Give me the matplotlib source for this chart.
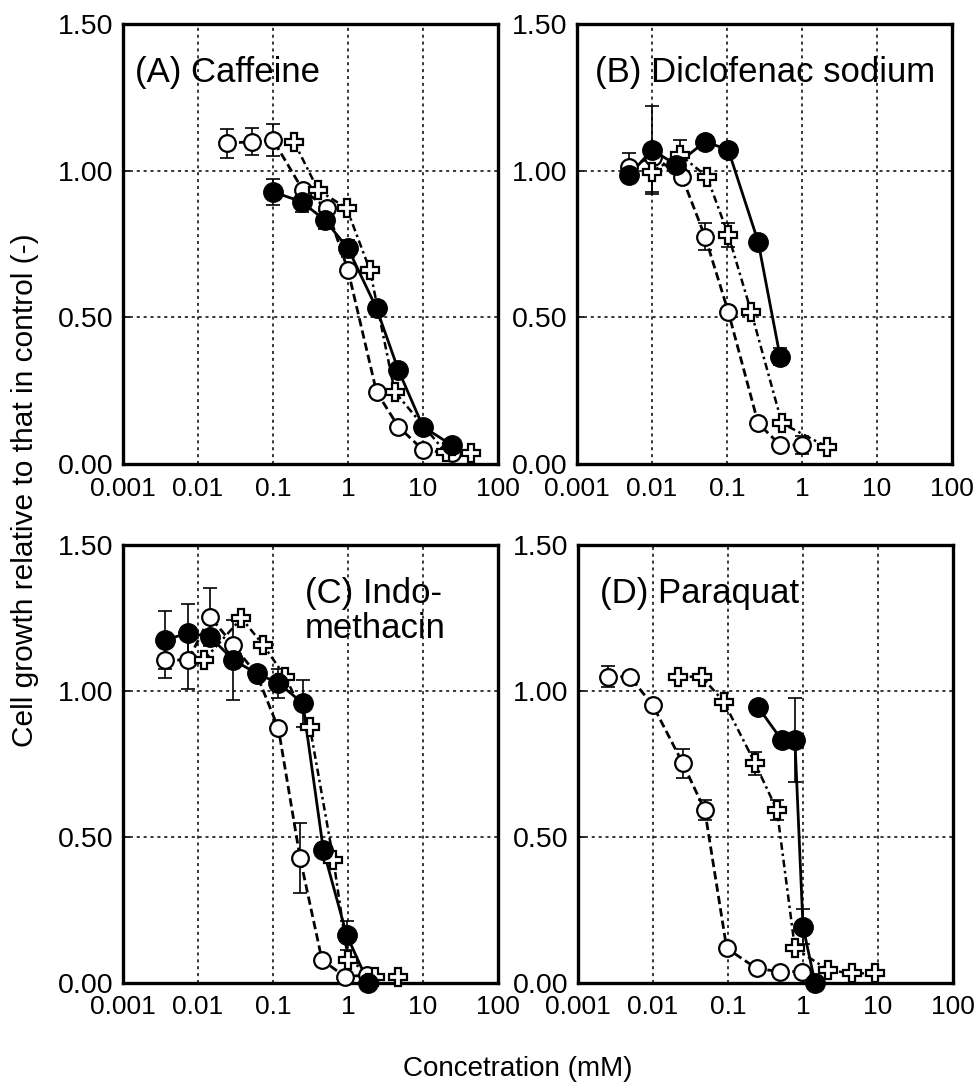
import numpy as np
import matplotlib
matplotlib.use('Agg')
import matplotlib.pyplot as plt

plt.rcParams['font.family'] = ['Liberation Sans', 'DejaVu Sans']

# x ticks / y ticks
x_ticks = [0.001, 0.01, 0.1, 1, 10, 100]
x_tick_labels = ['0.001', '0.01', '0.1', '1', '10', '100']
y_ticks = [0.0, 0.5, 1.0, 1.5]
y_tick_labels = ['0.00', '0.50', '1.00', '1.50']

# (A) Caffeine
caf_fill_x = [0.1, 0.24, 0.49, 1.0, 2.4, 4.7, 10, 24]
caf_fill_y = [0.928, 0.894, 0.832, 0.735, 0.531, 0.32, 0.127, 0.065]
caf_fill_e = [0.045, 0.035, 0.03, 0.03, 0, 0, 0, 0]
caf_open_x = [0.024, 0.052, 0.1, 0.25, 0.52, 1.0, 2.4, 4.7, 10, 24]
caf_open_y = [1.093, 1.099, 1.105, 0.934, 0.873, 0.661, 0.246, 0.127, 0.048, 0.036]
caf_open_e = [0.05, 0.045, 0.055, 0, 0, 0, 0, 0, 0, 0]
caf_cross_x = [0.19, 0.4, 0.96, 1.96, 4.2, 20, 44]
caf_cross_y = [1.099, 0.934, 0.872, 0.661, 0.246, 0.04, 0.036]
caf_cross_e = [0, 0, 0, 0, 0, 0, 0]

# (B) Diclofenac sodium
dic_fill_x = [0.005, 0.01, 0.021, 0.051, 0.104, 0.26, 0.51]
dic_fill_y = [0.985, 1.071, 1.02, 1.099, 1.071, 0.758, 0.366]
dic_fill_e = [0, 0.15, 0, 0, 0, 0, 0.03]
dic_open_x = [0.005, 0.0104, 0.025, 0.051, 0.104, 0.26, 0.51, 1.0]
dic_open_y = [1.014, 1.048, 0.98, 0.775, 0.519, 0.139, 0.065, 0.065]
dic_open_e = [0.045, 0, 0, 0.045, 0, 0, 0, 0.03]
dic_cross_x = [0.01, 0.0236, 0.054, 0.104, 0.21, 0.54, 2.13]
dic_cross_y = [0.997, 1.054, 0.98, 0.781, 0.519, 0.139, 0.059]
dic_cross_e = [0.07, 0.05, 0, 0.04, 0, 0, 0]

# (C) Indomethacin
ind_fill_x = [0.0036, 0.0074, 0.0145, 0.0296, 0.061, 0.118, 0.25, 0.47, 0.96, 1.87]
ind_fill_y = [1.175, 1.198, 1.186, 1.106, 1.06, 1.027, 0.958, 0.455, 0.164, 0.0]
ind_fill_e = [0.10, 0.10, 0, 0.137, 0, 0.05, 0.08, 0, 0.05, 0]
ind_open_x = [0.0036, 0.0074, 0.0145, 0.0296, 0.061, 0.118, 0.23, 0.45, 0.91, 1.8]
ind_open_y = [1.106, 1.106, 1.254, 1.158, 1.055, 0.872, 0.427, 0.079, 0.022, 0.027]
ind_open_e = [0.06, 0.10, 0.10, 0, 0, 0, 0.12, 0, 0, 0]
ind_cross_x = [0.012, 0.038, 0.074, 0.145, 0.31, 0.64, 1.0, 2.3, 4.7]
ind_cross_y = [1.106, 1.249, 1.158, 1.049, 0.878, 0.421, 0.079, 0.022, 0.022]
ind_cross_e = [0, 0, 0, 0, 0, 0, 0, 0, 0]

# (D) Paraquat
par_fill_x = [0.25, 0.52, 0.78, 1.0, 1.45]
par_fill_y = [0.946, 0.832, 0.832, 0.193, 0.0]
par_fill_e = [0, 0, 0.145, 0.06, 0]
par_open_x = [0.0025, 0.0049, 0.0099, 0.025, 0.049, 0.096, 0.24, 0.49, 0.96]
par_open_y = [1.049, 1.049, 0.952, 0.752, 0.592, 0.119, 0.05, 0.039, 0.039]
par_open_e = [0.035, 0, 0, 0.05, 0.035, 0, 0, 0, 0]
par_cross_x = [0.0218, 0.0446, 0.088, 0.23, 0.45, 0.78, 2.18, 4.45, 9.1]
par_cross_y = [1.049, 1.049, 0.963, 0.752, 0.592, 0.119, 0.044, 0.033, 0.033]
par_cross_e = [0, 0, 0, 0.04, 0.035, 0, 0, 0, 0]

panels = [
    ('A', [(caf_open_x, caf_open_y, caf_open_e), (caf_cross_x, caf_cross_y, caf_cross_e),
           (caf_fill_x, caf_fill_y, caf_fill_e)]),
    ('B', [(dic_open_x, dic_open_y, dic_open_e), (dic_cross_x, dic_cross_y, dic_cross_e),
           (dic_fill_x, dic_fill_y, dic_fill_e)]),
    ('C', [(ind_open_x, ind_open_y, ind_open_e), (ind_cross_x, ind_cross_y, ind_cross_e),
           (ind_fill_x, ind_fill_y, ind_fill_e)]),
    ('D', [(par_open_x, par_open_y, par_open_e), (par_cross_x, par_cross_y, par_cross_e),
           (par_fill_x, par_fill_y, par_fill_e)]),
]

# marker / line style per series: open circle, cross, filled circle
styles = [
    dict(marker='o', ms=12, mfc='white', mec='black', mew=1.6, ls=(0, (3, 1.5)), lw=2.0),
    dict(marker='P', ms=13, mfc='white', mec='black', mew=1.6, ls=(0, (3, 1.5, 1, 1.5)), lw=1.8),
    dict(marker='o', ms=14, mfc='black', mec='black', mew=1.0, ls='-', lw=2.0),
]

W, H = 979, 1084
fig = plt.figure(figsize=(W / 100, H / 100), dpi=100)

# axes boxes in pixels: left, top(1.5), right, bottom(0.0)
boxes = {
    'A': (123, 24, 498, 464),
    'B': (577, 24, 952, 464),
    'C': (123, 545, 498, 983),
    'D': (578, 545, 953, 983),
}

for key, series in panels:
    l, t, r, b = boxes[key]
    ax = fig.add_axes([l / W, 1 - b / H, (r - l) / W, (b - t) / H])
    ax.set_xscale('log')
    ax.set_xlim(1e-3, 1e2)
    ax.set_ylim(0, 1.5)
    ax.set_xticks(x_ticks)
    ax.set_xticklabels(x_tick_labels)
    ax.minorticks_off()
    ax.set_yticks(y_ticks)
    ax.set_yticklabels(y_tick_labels)
    ax.tick_params(axis='x', length=0, pad=9, labelsize=19)
    ax.tick_params(axis='y', direction='in', length=5, width=1.2, pad=7, labelsize=20.5)
    for s in ax.spines.values():
        s.set_linewidth(2.4)
    for xv in x_ticks[1:-1]:
        ax.axvline(xv, color='black', lw=1.1, ls=(0, (2, 2.5)), zorder=1)
    for yv in [0.5, 1.0]:
        ax.axhline(yv, color='black', lw=1.1, ls=(0, (2, 2.5)), zorder=1)

    for (xs, ys, es), st in zip(series, styles):
        ax.plot(xs, ys, color='black', ls=st['ls'], lw=st['lw'], zorder=2, clip_on=False)
        es_arr = np.array(es)
        if es_arr.any():
            ax.errorbar(xs, ys, yerr=es_arr, fmt='none', ecolor='black',
                        elinewidth=1.2, capsize=5, capthick=1.2, zorder=2, clip_on=False)
        ax.plot(xs, ys, ls='none', marker=st['marker'], ms=st['ms'], mfc=st['mfc'],
                mec=st['mec'], mew=st['mew'], zorder=3, clip_on=False)

    if key == 'A':
        ax.text(0.032, 0.868, '(A) Caffeine', transform=ax.transAxes, fontsize=25,
                ha='left', va='baseline')
    elif key == 'B':
        ax.text(0.048, 0.868, '(B) Diclofenac sodium', transform=ax.transAxes, fontsize=25,
                ha='left', va='baseline')
    elif key == 'C':
        ax.text(0.485, 0.868, '(C) Indo-', transform=ax.transAxes, fontsize=25,
                ha='left', va='baseline')
        ax.text(0.485, 0.788, 'methacin', transform=ax.transAxes, fontsize=25,
                ha='left', va='baseline')
    else:
        ax.text(0.059, 0.868, '(D) Paraquat', transform=ax.transAxes, fontsize=25,
                ha='left', va='baseline')

fig.text(25 / W, 1 - 490 / H, 'Cell growth relative to that in control (-)',
         rotation=90, ha='center', va='center', fontsize=21.5)
fig.text(518 / W, 1 - 1069 / H, 'Concetration (mM)', ha='center', va='center', fontsize=20)

fig.savefig('out.png', dpi=100)
